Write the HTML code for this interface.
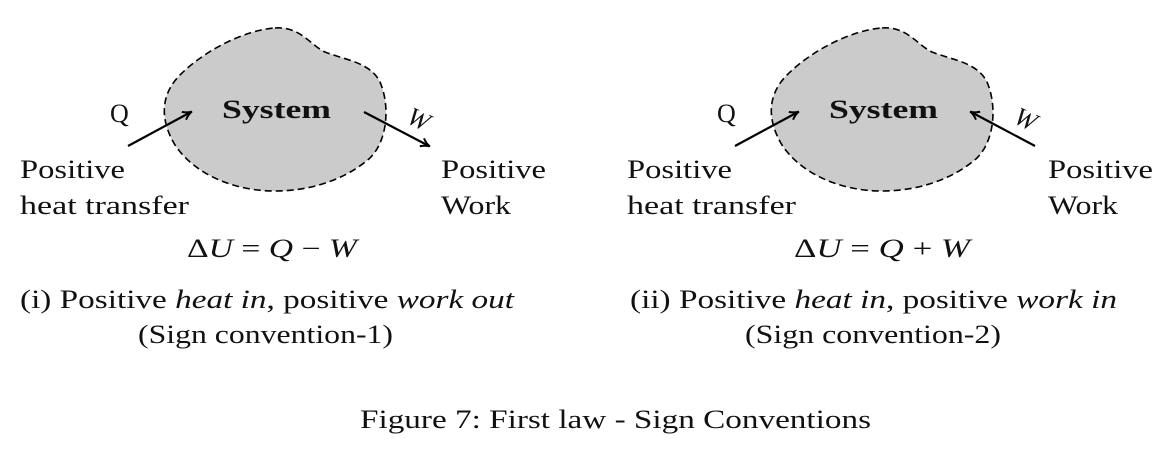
<!DOCTYPE html>
<html><head><style>
html,body{margin:0;padding:0;background:#fff;}
svg{display:block;}
text{font-family:"Liberation Serif",serif;fill:#111;font-size:26px;}
</style></head><body>
<svg width="1170" height="454" viewBox="0 0 1170 454" xmlns="http://www.w3.org/2000/svg">
<defs>
<marker id="ah" markerWidth="12" markerHeight="12" refX="9" refY="5" orient="auto" markerUnits="userSpaceOnUse">
<path d="M1,0.5 Q5,4 10,5 Q5,6 1,9.5" fill="none" stroke="#000" stroke-width="2"/>
</marker>
<g id="blob">
<path d="M275,28 C300,26 310,45 325,52 C345,60 370,62 380,82 C390,105 388,140 370,158 C345,180 310,191 275,191 C235,191 195,175 175,145 C160,120 160,95 180,75 C205,50 245,30 275,28 Z" fill="#cbcbcb" stroke="#000" stroke-width="1.6" stroke-dasharray="7,4"/>
</g>
</defs>
<use href="#blob"/>
<use href="#blob" x="607"/>
<line x1="128" y1="146" x2="191" y2="112" stroke="#000" stroke-width="2.2" marker-end="url(#ah)"/>
<line x1="364" y1="112" x2="429" y2="146" stroke="#000" stroke-width="2.2" marker-end="url(#ah)"/>
<line x1="735" y1="146" x2="798" y2="112" stroke="#000" stroke-width="2.2" marker-end="url(#ah)"/>
<line x1="1035" y1="146" x2="971" y2="112" stroke="#000" stroke-width="2.2" marker-end="url(#ah)"/>

<text x="222" y="118" font-weight="bold" textLength="109" lengthAdjust="spacingAndGlyphs">System</text>
<text x="829" y="118" font-weight="bold" textLength="109" lengthAdjust="spacingAndGlyphs">System</text>
<text x="110" y="122" font-size="30">Q</text>
<text x="717" y="122" font-size="30">Q</text>
<text x="408" y="130" font-size="30" font-style="italic" transform="rotate(25 424 120)">W</text>
<text x="1015" y="130" font-size="30" font-style="italic" transform="rotate(25 1031 120)">W</text>

<text x="20" y="178" textLength="105" lengthAdjust="spacingAndGlyphs">Positive</text>
<text x="20" y="214" textLength="169" lengthAdjust="spacingAndGlyphs">heat transfer</text>
<text x="441" y="178" textLength="105" lengthAdjust="spacingAndGlyphs">Positive</text>
<text x="441" y="214" textLength="70" lengthAdjust="spacingAndGlyphs">Work</text>
<text x="627" y="178" textLength="105" lengthAdjust="spacingAndGlyphs">Positive</text>
<text x="627" y="214" textLength="169" lengthAdjust="spacingAndGlyphs">heat transfer</text>
<text x="1048" y="178" textLength="105" lengthAdjust="spacingAndGlyphs">Positive</text>
<text x="1048" y="214" textLength="70" lengthAdjust="spacingAndGlyphs">Work</text>

<text x="187" y="257" textLength="170" lengthAdjust="spacingAndGlyphs">Δ<tspan font-style="italic">U</tspan> = <tspan font-style="italic">Q</tspan> − <tspan font-style="italic">W</tspan></text>
<text x="794" y="257" textLength="176" lengthAdjust="spacingAndGlyphs">Δ<tspan font-style="italic">U</tspan> = <tspan font-style="italic">Q</tspan> + <tspan font-style="italic">W</tspan></text>

<text x="20" y="308" textLength="494" lengthAdjust="spacingAndGlyphs">(i) Positive <tspan font-style="italic">heat in</tspan>, positive <tspan font-style="italic">work out</tspan></text>
<text x="138" y="343" textLength="255" lengthAdjust="spacingAndGlyphs">(Sign convention-1)</text>
<text x="630" y="308" textLength="487" lengthAdjust="spacingAndGlyphs">(ii) Positive <tspan font-style="italic">heat in</tspan>, positive <tspan font-style="italic">work in</tspan></text>
<text x="745" y="343" textLength="256" lengthAdjust="spacingAndGlyphs">(Sign convention-2)</text>

<text x="360" y="428" textLength="511" lengthAdjust="spacingAndGlyphs">Figure 7: First law - Sign Conventions</text>
</svg>
</body></html>
